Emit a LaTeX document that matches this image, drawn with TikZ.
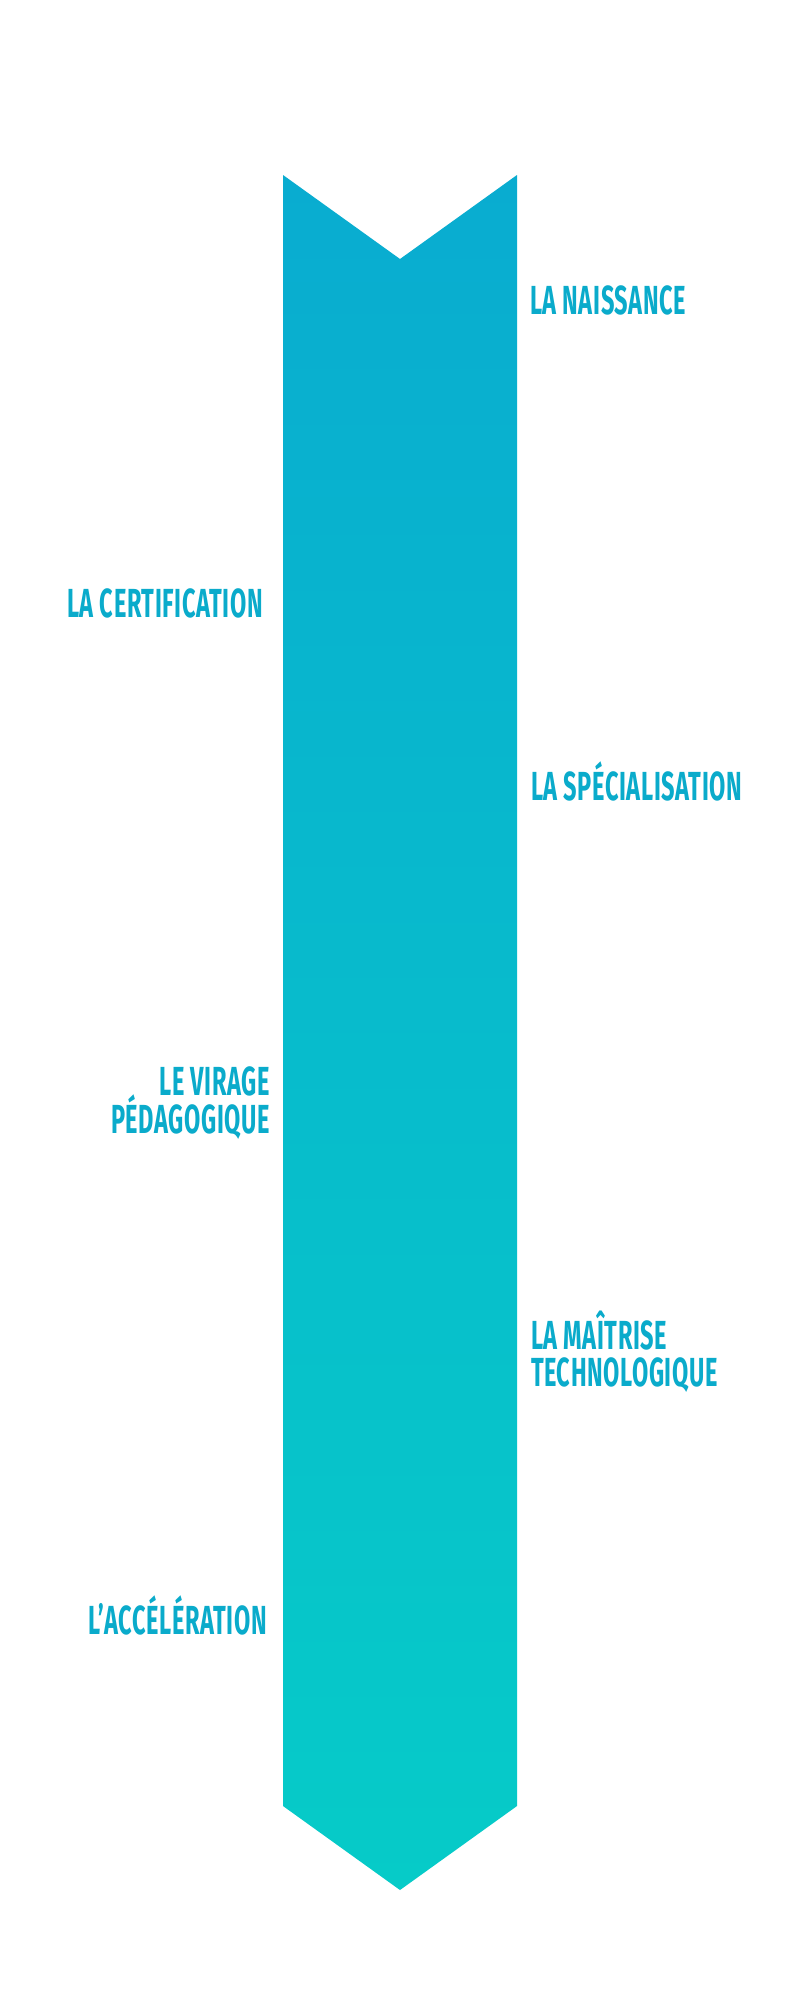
\documentclass[tikz,border=0pt]{standalone}
\usepackage{fontspec}
\newfontfamily\labfont[FakeStretch=0.58,LetterSpace=1.5]{Fira Sans}
\definecolor{arrowtop}{HTML}{09ACD0}
\definecolor{arrowbot}{HTML}{06CBC8}
\definecolor{labcol}{HTML}{0AABCB}
\begin{document}
\begin{tikzpicture}[x=1pt,y=-1pt,
  lab/.style={inner sep=0pt,outer sep=0pt,text=labcol,font=\labfont\bfseries\fontsize{40.6}{38}\selectfont},
  rlab/.style={lab,anchor=base west},
  llab/.style={lab,anchor=base east}]
\useasboundingbox[fill=white] (0,0) rectangle (800,2000);
\shade[top color=arrowtop,bottom color=arrowbot]
  (283,175) -- (400,259) -- (517,175) -- (517,1806) -- (400,1890) -- (283,1806) -- cycle;
\node[rlab] (naissance) at (530,314) {LA NAISSANCE};
\node[llab] (certif) at (263,617) {LA CERTIFICATION};
\node[rlab] (special) at (531,800) {LA SPÉCIALISATION};
\node[llab] (virage1) at (270,1095) {LE VIRAGE};
\node[llab] (virage2) at (270,1133) {PÉDAGOGIQUE};
\node[rlab] (maitrise1) at (531,1349) {LA MAÎTRISE};
\node[rlab] (maitrise2) at (531,1386) {TECHNOLOGIQUE};
\node[llab] (accel) at (267,1634) {L’ACCÉLÉRATION};
\end{tikzpicture}
\end{document}
